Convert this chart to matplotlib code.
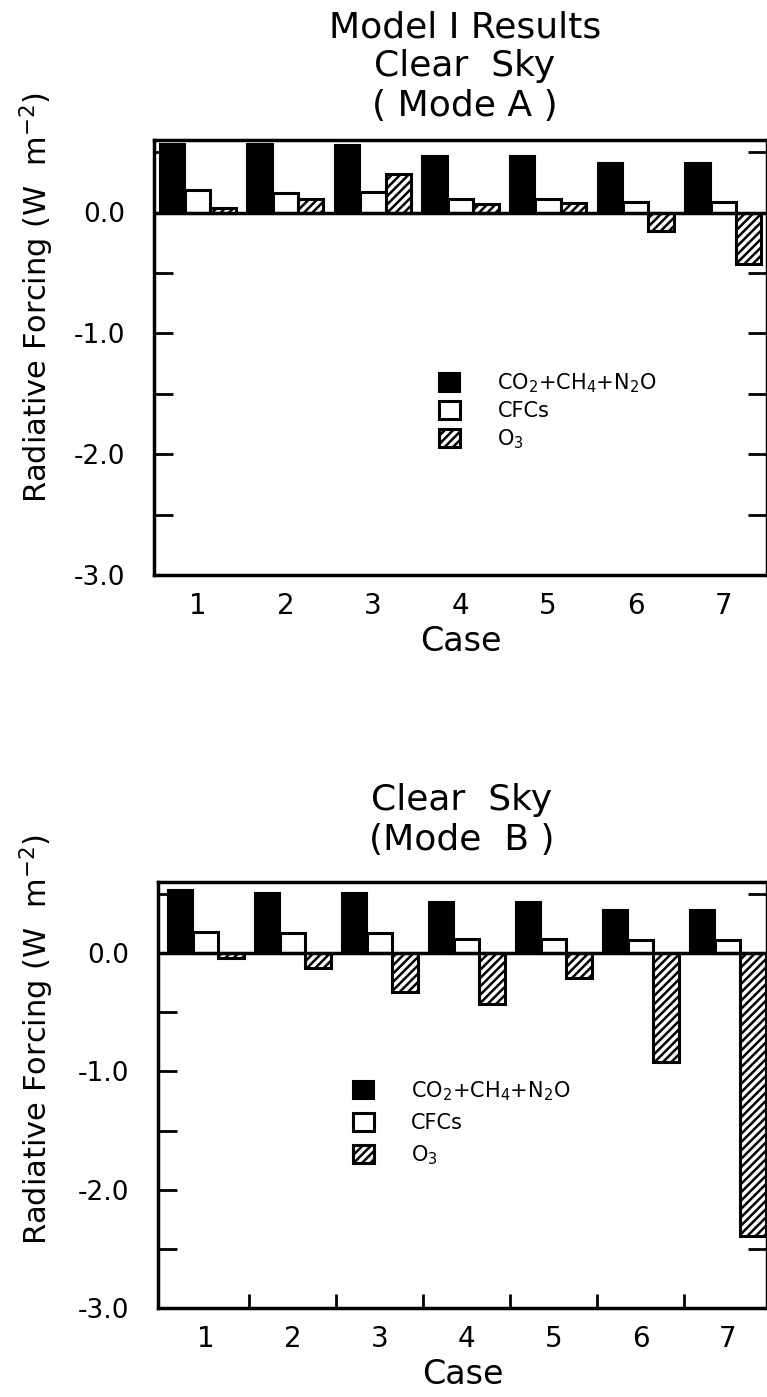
import matplotlib
matplotlib.use('Agg')
import matplotlib.pyplot as plt
import numpy as np

# ---- data ----
cases = ['1', '2', '3', '4', '5', '6', '7']
ghg_a = [0.57, 0.57, 0.56, 0.47, 0.47, 0.41, 0.41]
cfc_a = [0.19, 0.16, 0.17, 0.11, 0.11, 0.09, 0.09]
o3_a = [0.04, 0.11, 0.32, 0.07, 0.08, -0.15, -0.43]
ghg_b = [0.53, 0.51, 0.51, 0.43, 0.43, 0.36, 0.36]
cfc_b = [0.18, 0.17, 0.17, 0.12, 0.12, 0.11, 0.11]
o3_b = [-0.04, -0.13, -0.33, -0.43, -0.21, -0.92, -2.39]
legend_labels = ['CO$_2$+CH$_4$+N$_2$O', 'CFCs', 'O$_3$']
ytick_vals = [0.0, -1.0, -2.0, -3.0]
ytick_labels = ['0.0', '-1.0', '-2.0', '-3.0']
yminor_vals = [0.5, -0.5, -1.5, -2.5]
ylabel = 'Radiative Forcing (W  m$^{-2}$)'
xlabel = 'Case'
titles_a = ['Model I Results', 'Clear  Sky', '( Mode A )']
titles_b = ['Clear  Sky', '(Mode  B )']

plt.rcParams['font.family'] = ['DejaVu Sans']
plt.rcParams['hatch.linewidth'] = 1.8

fig = plt.figure(figsize=(7.67, 13.97), dpi=100)
W, H = 767.0, 1397.0


def panel(left_px, top_px, bottom_px, ghg, cfc, o3, xlim, xticks_minor,
          leg_anchor, leg_spacing, leg_textpad, ylab_pos):
    ax = fig.add_axes([left_px / W, 1 - bottom_px / H,
                       1.0 - left_px / W, (bottom_px - top_px) / H])
    x = np.arange(1, len(cases) + 1)
    w = 0.29
    b1 = ax.bar(x - w, ghg, w, color='black', edgecolor='black', lw=1.5, zorder=2)
    b2 = ax.bar(x, cfc, w, color='white', edgecolor='black', lw=2.2, zorder=2)
    b3 = ax.bar(x + w, o3, w, color='white', edgecolor='black', hatch='////',
                lw=2.2, zorder=2)
    ax.axhline(0, color='black', lw=2.5, zorder=3)
    ax.set_xlim(*xlim)
    ax.set_ylim(-3.0, 0.6)
    for s in ax.spines.values():
        s.set_linewidth(2.5)
    ax.set_yticks(ytick_vals)
    ax.set_yticklabels(ytick_labels)
    ax.set_yticks(yminor_vals, minor=True)
    ax.tick_params(axis='y', which='both', direction='in', length=14, width=2,
                   right=True, labelsize=19, pad=21)
    ax.set_xticks(x)
    ax.set_xticklabels(cases)
    ax.tick_params(axis='x', which='major', length=0, labelsize=20, pad=12)
    if xticks_minor:
        ax.set_xticks(xticks_minor, minor=True)
        ax.tick_params(axis='x', which='minor', direction='in', length=10, width=2)
    ax.set_xlabel(xlabel, fontsize=24, labelpad=4)
    ax.set_ylabel(ylabel, fontsize=22)
    ax.yaxis.set_label_coords(*ylab_pos)
    ax.legend([b1, b2, b3], legend_labels, loc='upper left',
              bbox_to_anchor=leg_anchor, frameon=False, fontsize=15,
              handlelength=1.0, handleheight=1.0, handletextpad=leg_textpad,
              labelspacing=leg_spacing, borderaxespad=0, borderpad=0)
    return ax


ax1 = panel(154, 140, 575, ghg_a, cfc_a, o3_a, (0.5, 7.5), None,
            (0.465, 0.468), 0.28, 1.8, (-0.16, 0.637))
ax2 = panel(158, 882, 1308, ghg_b, cfc_b, o3_b, (0.45, 7.45),
            [1.5, 2.5, 3.5, 4.5, 5.5, 6.5],
            (0.32, 0.537), 0.48, 1.8, (-0.168, 0.63))

for txt, ypx in zip(titles_a, [27, 66, 106]):
    fig.text(465 / W, 1 - ypx / H, txt, ha='center', va='center', fontsize=26)
for txt, ypx in zip(titles_b, [800, 840]):
    fig.text(462 / W, 1 - ypx / H, txt, ha='center', va='center', fontsize=26)

fig.savefig('out.png', dpi=100)
